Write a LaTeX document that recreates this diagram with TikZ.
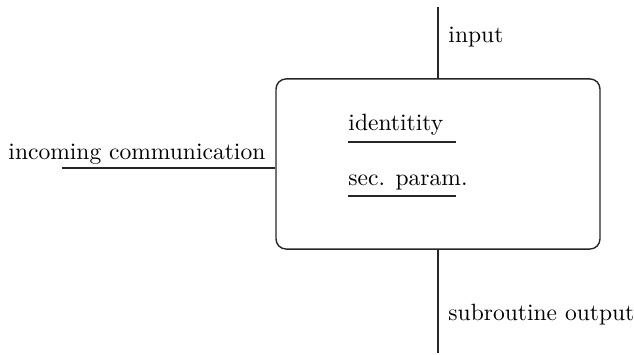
\documentclass[tikz,border=0pt]{standalone}
\begin{document}
\begin{tikzpicture}[x=0.425pt,y=-0.425pt,
    lbl/.style={anchor=base west, inner sep=0pt},
    wire/.style={draw=black!85, line width=0.6pt},
    unit/.style={draw=black!85, line width=0.6pt, rounded corners=4.3pt,
      minimum width=137.7pt, minimum height=72.3pt, inner sep=0pt}]
  \useasboundingbox (0,0) rectangle (634,355);

  % the functionality box
  \node[unit] (box) at (438,164) {};

  % free ends of the three wires
  \coordinate (intop) at (438,7);
  \coordinate (outbot) at (438,353);
  \coordinate (inleft) at (62,168);

  \draw[wire] (intop) -- (box.north);
  \draw[wire] (box.south) -- (outbot);
  \draw[wire] (inleft) -- (inleft -| box.west);

  % wire labels
  \node[lbl] (lin)  at (448,43)  {input};
  \node[lbl] (lout) at (448,321) {subroutine output};
  \node[lbl] (lcom) at (8,160)   {incoming communication};

  % internal fields
  \node[lbl] (fid)  at (348,131) {identitity};
  \node[lbl] (fsec) at (348,186) {sec. param.};
  \draw[wire] (348,142) -- (456,142);
  \draw[wire] (348,196) -- (456,196);
\end{tikzpicture}
\end{document}
